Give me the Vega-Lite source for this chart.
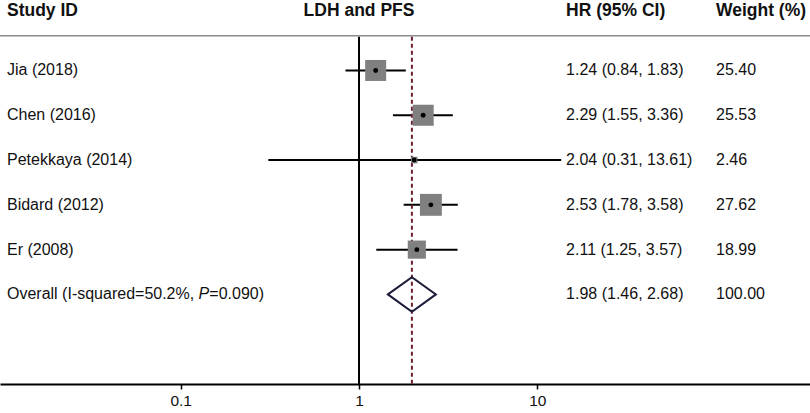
{
  "$schema": "https://vega.github.io/schema/vega-lite/v6.json",
  "width": 810,
  "height": 384,
  "autosize": {"type": "none"},
  "padding": {"left": 0, "right": 0, "top": 0, "bottom": 29},
  "background": "white",
  "config": {
    "view": {"stroke": null},
    "font": "Liberation Sans",
    "axis": {
      "labelFontSize": 15.5,
      "labelColor": "#111111",
      "labelFont": "Liberation Sans",
      "grid": false,
      "domainColor": "black",
      "domainWidth": 2,
      "tickColor": "black",
      "tickWidth": 1.5,
      "tickSize": 5,
      "labelPadding": 4,
      "labelFlush": false,
      "title": null
    }
  },
  "data": {
    "values": [
      {"study": "Jia (2018)", "label": "Jia (2018)", "kind": "study", "hr": 1.24, "lo": 0.84, "hi": 1.83, "weight": 25.40, "ci": "1.24 (0.84, 1.83)", "wt": "25.40"},
      {"study": "Chen (2016)", "label": "Chen (2016)", "kind": "study", "hr": 2.29, "lo": 1.55, "hi": 3.36, "weight": 25.53, "ci": "2.29 (1.55, 3.36)", "wt": "25.53"},
      {"study": "Petekkaya (2014)", "label": "Petekkaya (2014)", "kind": "study", "hr": 2.04, "lo": 0.31, "hi": 13.61, "weight": 2.46, "ci": "2.04 (0.31, 13.61)", "wt": "2.46"},
      {"study": "Bidard (2012)", "label": "Bidard (2012)", "kind": "study", "hr": 2.53, "lo": 1.78, "hi": 3.58, "weight": 27.62, "ci": "2.53 (1.78, 3.58)", "wt": "27.62"},
      {"study": "Er (2008)", "label": "Er (2008)", "kind": "study", "hr": 2.11, "lo": 1.25, "hi": 3.57, "weight": 18.99, "ci": "2.11 (1.25, 3.57)", "wt": "18.99"},
      {"study": "Overall", "label": "Overall (I-squared=50.2%, ", "p": "P", "prest": "=0.090)", "kind": "overall", "hr": 1.98, "lo": 1.46, "hi": 2.68, "weight": 100, "ci": "1.98 (1.46, 2.68)", "wt": "100.00"}
    ]
  },
  "encoding": {
    "y": {
      "field": "study",
      "type": "nominal",
      "scale": {
        "type": "point",
        "domain": ["Study ID", "Jia (2018)", "Chen (2016)", "Petekkaya (2014)", "Bidard (2012)", "Er (2008)", "Overall", "_a", "_b"],
        "padding": 0.2866,
        "align": 1
      },
      "axis": null
    }
  },
  "layer": [
    {
      "transform": [{"filter": "datum.kind === 'overall'"}],
      "mark": {"type": "rule", "color": "#8c8c8c", "strokeWidth": 1.5, "yOffset": 10},
      "encoding": {
        "y": {"datum": "Study ID", "type": "nominal"}
      }
    },
    {
      "transform": [{"filter": "datum.kind === 'study'"}],
      "mark": {"type": "rule", "color": "black", "strokeWidth": 2},
      "encoding": {
        "x": {
          "field": "lo",
          "type": "quantitative",
          "scale": {"type": "log", "domain": [0.009694, 338.4], "nice": false},
          "axis": {"values": [0.1, 1, 10], "format": "~g", "title": null}
        },
        "x2": {"field": "hi"}
      }
    },
    {
      "transform": [{"filter": "datum.kind === 'overall'"}],
      "mark": {"type": "rule", "color": "black", "strokeWidth": 2, "yOffset": 11, "y2Offset": 0},
      "encoding": {
        "x": {"datum": 1, "type": "quantitative", "scale": {"type": "log", "domain": [0.009694, 338.4], "nice": false}},
        "y": {"datum": "Study ID", "type": "nominal"},
        "y2": {"datum": "_b"}
      }
    },
    {
      "transform": [{"filter": "datum.kind === 'overall'"}],
      "mark": {"type": "rule", "color": "#6e1f2f", "strokeWidth": 2, "strokeDash": [4, 3], "yOffset": 11, "y2Offset": 0},
      "encoding": {
        "x": {"field": "hr", "type": "quantitative", "scale": {"type": "log", "domain": [0.009694, 338.4], "nice": false}},
        "y": {"datum": "Study ID", "type": "nominal"},
        "y2": {"datum": "_b"}
      }
    },
    {
      "transform": [{"filter": "datum.kind === 'study'"}],
      "mark": {"type": "point", "shape": "square", "filled": true, "color": "#808080", "opacity": 1},
      "encoding": {
        "x": {"field": "hr", "type": "quantitative", "scale": {"type": "log", "domain": [0.009694, 338.4], "nice": false}},
        "size": {"field": "weight", "type": "quantitative", "scale": {"type": "linear", "domain": [0, 100], "range": [0, 1736]}, "legend": null}
      }
    },
    {
      "transform": [{"filter": "datum.kind === 'study'"}],
      "mark": {"type": "point", "shape": "circle", "filled": true, "color": "black", "opacity": 1, "size": 24},
      "encoding": {
        "x": {"field": "hr", "type": "quantitative", "scale": {"type": "log", "domain": [0.009694, 338.4], "nice": false}}
      }
    },
    {
      "transform": [{"filter": "datum.kind === 'overall'"}],
      "mark": {"type": "point", "shape": "M-1,0L0,-0.72L1,0L0,0.72Z", "filled": false, "stroke": "#1b1b3a", "strokeWidth": 2, "opacity": 1, "size": 2304},
      "encoding": {
        "x": {"field": "hr", "type": "quantitative", "scale": {"type": "log", "domain": [0.009694, 338.4], "nice": false}}
      }
    },
    {
      "mark": {"type": "text", "align": "left", "baseline": "middle", "fontSize": 16, "color": "#111111"},
      "encoding": {
        "x": {"datum": 0.01061, "type": "quantitative"},
        "text": {"field": "label"}
      }
    },
    {
      "transform": [{"filter": "datum.kind === 'overall'"}],
      "mark": {"type": "text", "align": "left", "baseline": "middle", "fontSize": 16, "fontStyle": "italic", "color": "#111111", "dx": 191.6},
      "encoding": {
        "x": {"datum": 0.01061, "type": "quantitative"},
        "text": {"field": "p"}
      }
    },
    {
      "transform": [{"filter": "datum.kind === 'overall'"}],
      "mark": {"type": "text", "align": "left", "baseline": "middle", "fontSize": 16, "color": "#111111", "dx": 202.3},
      "encoding": {
        "x": {"datum": 0.01061, "type": "quantitative"},
        "text": {"field": "prest"}
      }
    },
    {
      "mark": {"type": "text", "align": "left", "baseline": "middle", "fontSize": 16, "color": "#111111"},
      "encoding": {
        "x": {"datum": 14.5, "type": "quantitative"},
        "text": {"field": "ci"}
      }
    },
    {
      "mark": {"type": "text", "align": "left", "baseline": "middle", "fontSize": 16, "color": "#111111"},
      "encoding": {
        "x": {"datum": 100.5, "type": "quantitative"},
        "text": {"field": "wt"}
      }
    },
    {
      "transform": [{"filter": "datum.kind === 'overall'"}],
      "mark": {"type": "text", "align": "left", "baseline": "middle", "fontSize": 17.5, "fontWeight": "bold", "color": "#111111", "dy": -14.3},
      "encoding": {
        "x": {"datum": 0.01061, "type": "quantitative"},
        "y": {"datum": "Study ID", "type": "nominal"},
        "text": {"value": "Study ID"}
      }
    },
    {
      "transform": [{"filter": "datum.kind === 'overall'"}],
      "mark": {"type": "text", "align": "center", "baseline": "middle", "fontSize": 17.5, "fontWeight": "bold", "color": "#111111", "dy": -14.3},
      "encoding": {
        "x": {"datum": 1, "type": "quantitative"},
        "y": {"datum": "Study ID", "type": "nominal"},
        "text": {"value": "LDH and PFS"}
      }
    },
    {
      "transform": [{"filter": "datum.kind === 'overall'"}],
      "mark": {"type": "text", "align": "left", "baseline": "middle", "fontSize": 17.5, "fontWeight": "bold", "color": "#111111", "dy": -14.3},
      "encoding": {
        "x": {"datum": 14.5, "type": "quantitative"},
        "y": {"datum": "Study ID", "type": "nominal"},
        "text": {"value": "HR (95% CI)"}
      }
    },
    {
      "transform": [{"filter": "datum.kind === 'overall'"}],
      "mark": {"type": "text", "align": "left", "baseline": "middle", "fontSize": 17.5, "fontWeight": "bold", "color": "#111111", "dy": -14.3},
      "encoding": {
        "x": {"datum": 100.5, "type": "quantitative"},
        "y": {"datum": "Study ID", "type": "nominal"},
        "text": {"value": "Weight (%)"}
      }
    }
  ]
}
